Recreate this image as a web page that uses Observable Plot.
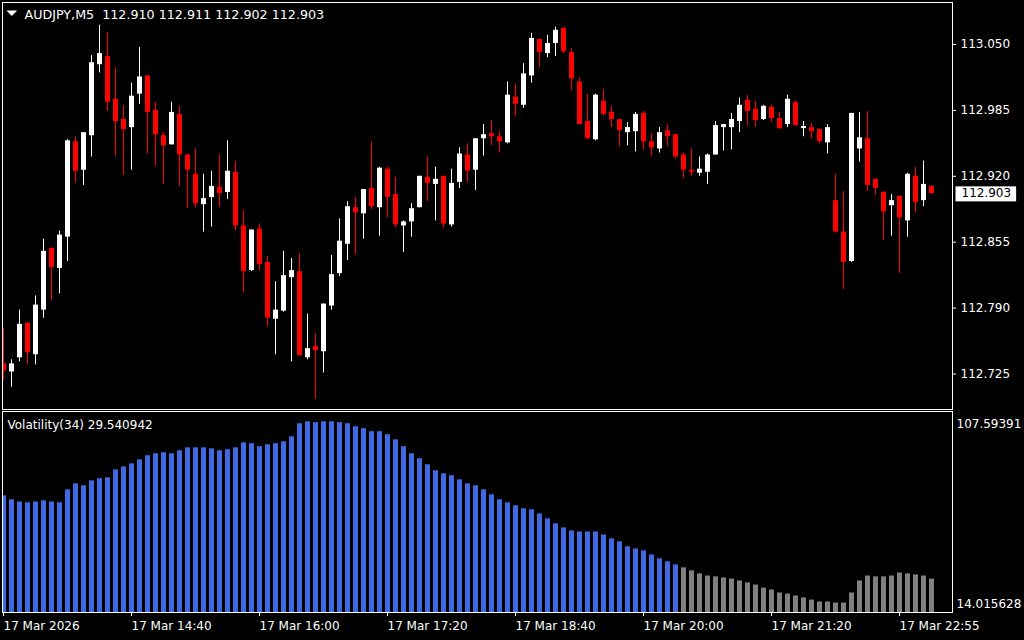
<!DOCTYPE html>
<html><head><meta charset="utf-8">
<script src="https://cdn.jsdelivr.net/npm/d3@7"></script>
<script src="https://cdn.jsdelivr.net/npm/@observablehq/plot@0.6"></script>
<style>
html,body{margin:0;padding:0;background:#000;}
#chart{width:1024px;height:640px;background:#000;position:relative;overflow:hidden;}
#chart svg{display:block;}
</style></head><body><div id="chart"></div>
<script>
const symbol = "AUDJPY,M5";
const volName = "Volatility";
const volPeriod = 34;

const open = [112.735,112.727,112.741,112.775,112.744,112.788,112.849,112.829,112.860,112.954,
112.926,112.960,113.030,113.038,112.996,112.976,112.968,113.001,113.019,112.985,
112.960,112.951,112.981,112.941,112.922,112.892,112.899,112.909,112.904,112.924,
112.871,112.827,112.868,112.835,112.779,112.787,112.820,112.826,112.741,112.752,
112.747,112.792,112.824,112.853,112.889,112.883,112.908,112.889,112.927,112.902,
112.871,112.875,112.889,112.919,112.912,112.920,112.872,112.914,112.941,112.926,
112.957,112.962,112.959,112.953,112.998,112.990,113.019,113.055,113.041,113.051,
113.066,113.042,113.013,112.974,112.956,112.994,112.983,112.976,112.963,112.964,
112.982,112.954,112.947,112.965,112.961,112.941,112.926,112.923,112.924,112.941,
112.968,112.968,112.974,112.995,112.986,112.976,112.988,112.977,112.971,112.993,
112.967,112.968,112.966,112.953,112.896,112.865,112.836,112.947,112.957,112.917,
112.904,112.891,112.900,112.876,112.920,112.896,112.910];

const high = [112.770,112.739,112.788,112.776,112.802,112.858,112.849,112.866,112.956,112.959,
112.963,113.039,113.069,113.062,113.027,112.990,113.012,113.047,113.019,112.993,
112.963,112.993,112.989,112.942,112.947,112.922,112.925,112.941,112.955,112.935,
112.886,112.867,112.873,112.841,112.816,112.846,112.839,112.844,112.784,112.765,
112.794,112.842,112.878,112.895,112.899,112.907,112.954,112.929,112.929,112.919,
112.876,112.893,112.920,112.939,112.929,112.920,112.927,112.948,112.952,112.957,
112.971,112.975,112.964,113.013,113.011,113.031,113.061,113.055,113.059,113.067,
113.067,113.046,113.017,113.001,113.001,113.006,112.989,112.976,112.973,112.983,
112.984,112.962,112.968,112.971,112.961,112.943,112.947,112.939,112.942,112.974,
112.971,112.982,112.997,113.000,112.994,112.990,112.990,112.983,113.000,112.994,
112.974,112.972,112.967,112.971,112.922,112.905,112.982,112.983,112.984,112.917,
112.905,112.902,112.901,112.923,112.929,112.935,112.911];

const low = [112.719,112.712,112.737,112.734,112.734,112.780,112.797,112.804,112.836,112.913,
112.911,112.939,113.022,112.984,112.940,112.921,112.926,112.991,112.942,112.930,
112.912,112.951,112.910,112.888,112.889,112.865,112.870,112.889,112.897,112.866,
112.805,112.826,112.827,112.772,112.744,112.786,112.737,112.743,112.739,112.700,
112.726,112.788,112.821,112.837,112.843,112.858,112.887,112.861,112.879,112.869,
112.845,112.860,112.889,112.895,112.876,112.869,112.870,112.908,112.914,112.906,
112.940,112.950,112.943,112.952,112.979,112.987,113.012,113.027,113.037,113.038,
113.041,113.004,112.971,112.956,112.955,112.979,112.968,112.949,112.950,112.944,
112.946,112.940,112.943,112.949,112.937,112.918,112.920,112.920,112.912,112.941,
112.945,112.946,112.963,112.970,112.968,112.975,112.973,112.966,112.968,112.970,
112.959,112.957,112.952,112.942,112.864,112.808,112.835,112.934,112.905,112.901,
112.857,112.861,112.824,112.860,112.884,112.890,112.902];

const close = [112.728,112.735,112.774,112.746,112.793,112.846,112.830,112.862,112.955,112.925,
112.963,113.032,113.041,112.993,112.974,112.966,112.999,113.018,112.983,112.961,
112.950,112.983,112.941,112.926,112.893,112.898,112.910,112.903,112.925,112.871,
112.826,112.867,112.833,112.780,112.788,112.822,112.827,112.743,112.750,112.748,
112.794,112.823,112.856,112.890,112.884,112.907,112.890,112.928,112.899,112.872,
112.875,112.888,112.920,112.913,112.917,112.873,112.913,112.942,112.925,112.957,
112.961,112.959,112.954,113.000,112.991,113.021,113.056,113.042,113.051,113.064,
113.043,113.016,112.971,112.957,113.000,112.981,112.976,112.965,112.968,112.981,
112.954,112.948,112.963,112.959,112.939,112.926,112.924,112.927,112.941,112.970,
112.971,112.976,112.990,112.984,112.975,112.989,112.977,112.967,112.996,112.970,
112.969,112.964,112.954,112.968,112.865,112.835,112.982,112.958,112.911,112.908,
112.885,112.896,112.879,112.922,112.894,112.912,112.903];

const volatility = [68.3,66.5,65.5,65.1,65.5,66.0,65.5,65.1,71.1,73.9,
73.0,75.3,76.3,76.7,80.4,81.8,83.2,85.1,87.0,87.9,
88.4,87.9,89.3,90.7,90.7,90.7,90.2,89.3,89.8,90.7,
93.0,92.6,91.2,92.1,92.6,93.5,95.8,101.9,102.8,102.4,
102.8,102.8,102.4,101.9,100.5,99.6,98.2,98.2,96.8,94.4,
91.2,87.9,85.6,82.8,80.0,78.6,77.7,75.8,73.9,73.0,
71.1,68.8,66.5,65.1,63.7,62.3,61.8,59.9,57.6,55.3,
53.4,52.0,51.5,51.5,51.5,50.1,48.3,46.9,44.6,43.6,
42.7,40.8,39.0,37.6,36.2,34.8,33.4,32.0,31.0,30.6,
30.1,29.6,28.7,27.8,26.8,25.4,24.5,23.1,22.6,21.7,
20.8,19.8,18.9,18.9,18.4,18.4,23.1,28.7,31.0,30.6,
30.6,31.0,32.4,32.0,31.5,31.0,29.540942];
const volLevel = 35.5;
const volMin = 14.015628, volMax = 107.59391;

const priceTicks = [112.725, 112.790, 112.855, 112.920, 112.985, 113.050];
const priceDomain = [112.690, 113.0914];
const timeTickIndex = [0, 16, 32, 48, 64, 80, 96, 112];
const timeTickLabels = ["17 Mar 2026","17 Mar 14:40","17 Mar 16:00","17 Mar 17:20","17 Mar 18:40","17 Mar 20:00","17 Mar 21:20","17 Mar 22:55"];
const xDomain = [-0.125, 118.625];

const candles = open.map((o, i) => ({i, o, h: high[i], l: low[i], c: close[i]}));
const vols = volatility.map((v, i) => ({i, v}));
const last = candles.length - 1;
const f3 = d3.format(".3f");
const font = "DejaVu Sans";
const upCol = "#ffffff", downCol = "#ff0000";
const colOf = d => d.c >= d.o ? upCol : downCol;

const header = `${symbol}\u00a0\u00a0${f3(open[last])} ${f3(high[last])} ${f3(low[last])} ${f3(close[last])}`;
const volLabel = `${volName}(${volPeriod}) ${d3.format(".6f")(volatility[last])}`;

// flat downward triangle (menu marker)
const flatTriangle = {
  draw(context) {
    context.moveTo(-5.4, -2.7);
    context.lineTo(5.4, -2.7);
    context.lineTo(0, 2.7);
    context.closePath();
  }
};

const pricePlot = Plot.plot({
  width: 1024, height: 410,
  marginLeft: 2, marginRight: 72, marginTop: 2, marginBottom: 1,
  style: {background: "#000", color: "#fff", fontFamily: font, fontSize: "12px"},
  x: {domain: xDomain, axis: null},
  y: {domain: priceDomain, axis: null},
  marks: [
    Plot.ruleX(candles, {x: "i", y1: "l", y2: "h", stroke: colOf, clip: true}),
    Plot.rect(candles, {x1: d => d.i - 0.5, x2: d => d.i + 0.5, insetLeft: 2, insetRight: 1,
      y1: "o", y2: "c", fill: colOf, clip: true}),
    Plot.frame({stroke: "#fff"}),
    Plot.axisY({anchor: "right", ticks: priceTicks, tickFormat: f3, tickSize: 3, tickPadding: 5,
      stroke: "#fff", fill: "#fff", fontSize: 12, label: null}),
    Plot.text([header], {frameAnchor: "top-left", dx: 22, dy: 12, textAnchor: "start",
      lineAnchor: "middle", fill: "#fff", fontSize: 12.7}),
    Plot.dot([0], {frameAnchor: "top-left", dx: 9.3, dy: 10.7, symbol: flatTriangle, r: 5,
      fill: "#fff", stroke: null}),
    Plot.text([close[last]], {y: d => d, frameAnchor: "right", dx: 9, textAnchor: "start",
      text: d => f3(d), fill: "#000", fontSize: 12})
  ]
});

const volPlot = Plot.plot({
  width: 1024, height: 230,
  marginLeft: 2, marginRight: 72, marginTop: 1, marginBottom: 28,
  style: {background: "#000", color: "#fff", fontFamily: font, fontSize: "12px"},
  x: {domain: xDomain, axis: null},
  y: {domain: [volMin, volMax], axis: null},
  marks: [
    Plot.rect(vols, {x1: d => d.i - 0.5, x2: d => d.i + 0.5, insetLeft: 2, insetRight: 1,
      y1: volMin, y2: "v", fill: d => d.v > volLevel ? "#4169e1" : "#808080", clip: true}),
    Plot.frame({stroke: "#fff"}),
    Plot.axisX({ticks: timeTickIndex, tickFormat: d => timeTickLabels[timeTickIndex.indexOf(d)],
      tickSize: 4, tickPadding: 5, textAnchor: "start", stroke: "#fff", fill: "#fff", fontSize: 12, label: null}),
    Plot.axisY({anchor: "right", ticks: [volMax], tickFormat: d3.format(".8r"), tickSize: 0,
      tickPadding: 4, dy: 13, fill: "#fff", fontSize: 12, label: null}),
    Plot.axisY({anchor: "right", ticks: [volMin], tickFormat: d3.format(".8r"), tickSize: 0,
      tickPadding: 4, dy: -8, fill: "#fff", fontSize: 12, label: null}),
    Plot.text([volLabel], {frameAnchor: "top-left", dx: 5, dy: 14, textAnchor: "start",
      lineAnchor: "middle", fill: "#fff", fontSize: 12})
  ]
});

const host = document.getElementById("chart");
host.appendChild(pricePlot);
host.appendChild(volPlot);

// white background box behind the current price label
const tagText = f3(close[last]);
const tag = Array.from(pricePlot.querySelectorAll("text")).find(t => t.textContent === tagText);
if (tag) {
  const bb = tag.getBBox();
  const r = document.createElementNS("http://www.w3.org/2000/svg", "rect");
  r.setAttribute("x", bb.x - 6);
  r.setAttribute("y", bb.y);
  r.setAttribute("width", bb.width + 11);
  r.setAttribute("height", bb.height + 1);
  r.setAttribute("fill", "#fff");
  const t = tag.getAttribute("transform");
  if (t) r.setAttribute("transform", t);
  tag.parentNode.insertBefore(r, tag);
}
</script></body></html>
